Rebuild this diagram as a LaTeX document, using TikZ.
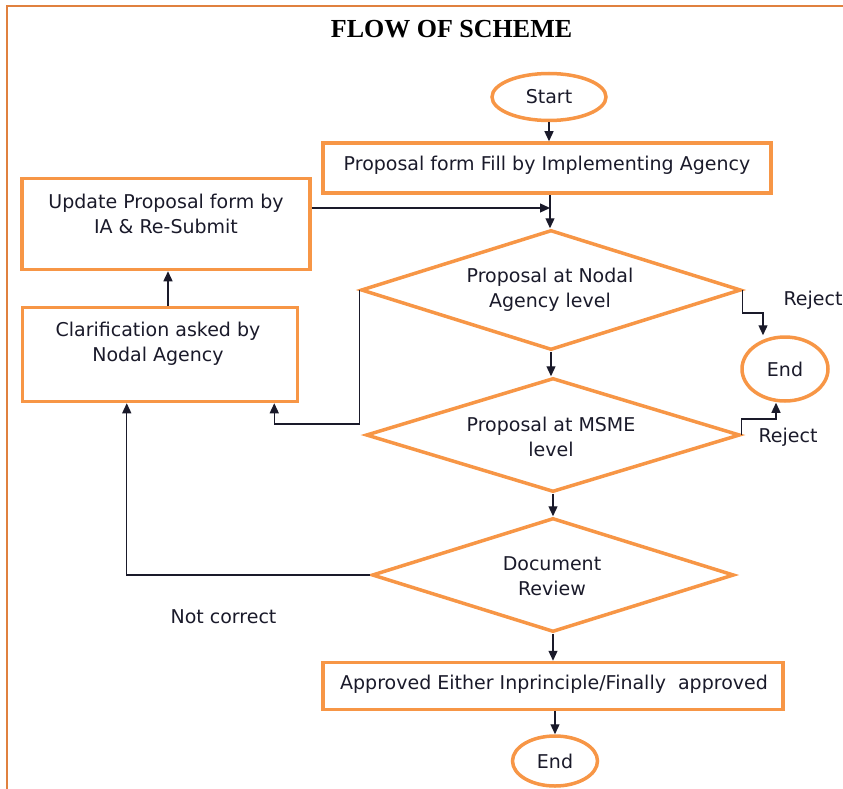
\documentclass[tikz,border=0pt]{standalone}
\usepackage{fontspec}
\setmainfont{DejaVu Sans}
\newfontfamily\titlefont{Liberation Serif}
\usetikzlibrary{shapes.geometric,arrows.meta,calc}
\definecolor{boxor}{HTML}{F79646}
\definecolor{frameor}{HTML}{E0813F}
\definecolor{txt}{HTML}{1A1A2A}
\begin{document}
\begin{tikzpicture}[x=1pt,y=-1pt,
  every node/.style={text=txt, font=\fontsize{19}{25}\selectfont, inner sep=0pt},
  box/.style={draw=boxor, line width=3.5pt, rectangle},
  ell/.style={draw=boxor, line width=3.5pt, ellipse},
  dia/.style={draw=boxor, line width=3.5pt, diamond},
  lbl/.style={align=center},
  arr/.style={draw=txt, line width=1.3pt, -{Triangle[length=10pt,width=9pt]}}]
\useasboundingbox (0,0) rectangle (843,789);
% frame
\draw[frameor, line width=2pt] (843,6.5) -- (7,6.5) -- (7,789);
% title
\node[text=black] (title) at (451.5,29) {\titlefont\bfseries\fontsize{26}{30}\selectfont FLOW OF SCHEME};
% nodes
\node[ell, minimum width=114, minimum height=47] (start) at (549,97) {Start};
\node[box, minimum width=448, minimum height=50] (b1) at (547,168) {};
\node (b1t) at (547,165) {Proposal form Fill by Implementing Agency};
\node[box, minimum width=288, minimum height=91] (upd) at (166,224) {};
\node[lbl] (updt) at (166,214) {Update Proposal form by\\IA \& Re-Submit};
\node[box, minimum width=275, minimum height=94] (clar) at (160,354.5) {};
\node[lbl] (clart) at (158,343.5) {Clarification asked by\\Nodal Agency};
\node[dia, minimum width=380, minimum height=120] (d1) at (551,290) {};
\node[lbl] (d1t) at (550,290) {Proposal at Nodal\\Agency level};
\node[ell, minimum width=86, minimum height=64] (end1) at (785,369) {End};
\node[dia, minimum width=374, minimum height=114] (d2) at (553,435) {};
\node[lbl] (d2t) at (551,437) {Proposal at MSME\\level};
\node[dia, minimum width=362, minimum height=114] (d3) at (553,575) {};
\node[lbl] (d3t) at (552,576) {Document\\Review};
\node[box, minimum width=460, minimum height=47] (ap) at (553,686) {};
\node (apt) at (554,684) {Approved Either Inprinciple/Finally\ \ approved};
\node[ell, minimum width=85, minimum height=50] (end2) at (555,761) {End};
% labels
\node (rej1) at (813,300) {Reject};
\node (rej2) at (788,437) {Reject};
\node (nc) at (223.5,617) {Not correct};
% connectors
\coordinate (join) at (550,208);
\draw[arr] (start.south) -- (start.south |- b1.north);
\draw[arr] (b1.south -| join) -- (d1.north -| join);
\draw[arr] (upd.east |- join) -- (join);
\draw[arr] (d1.south) -- (d1.south |- d2.north);
\draw[arr] (d2.south -| d3.north) -- (d3.north);
\draw[arr] (d3.south) -- (d3.south |- ap.north);
\draw[arr] (ap.south -| end2.north) -- (end2.north);
\draw[arr] (d1.east) -- ++(0,23) -| ($(end1.north)+(-22,0)$);
\draw[arr] (d2.east) -- ++(0,-16) -| ($(end1.south)+(-9,0)$);
\draw[arr] (d1.west) -- ++(0,134) -| ($(clar.south east)+(-25,0)$);
\draw[arr] ($(clar.north)+(8,0)$) -- ($(upd.south)+(2,0)$);
\draw[arr] (d3.west) -| ($(clar.south west)+(106,0)$);
\end{tikzpicture}
\end{document}
